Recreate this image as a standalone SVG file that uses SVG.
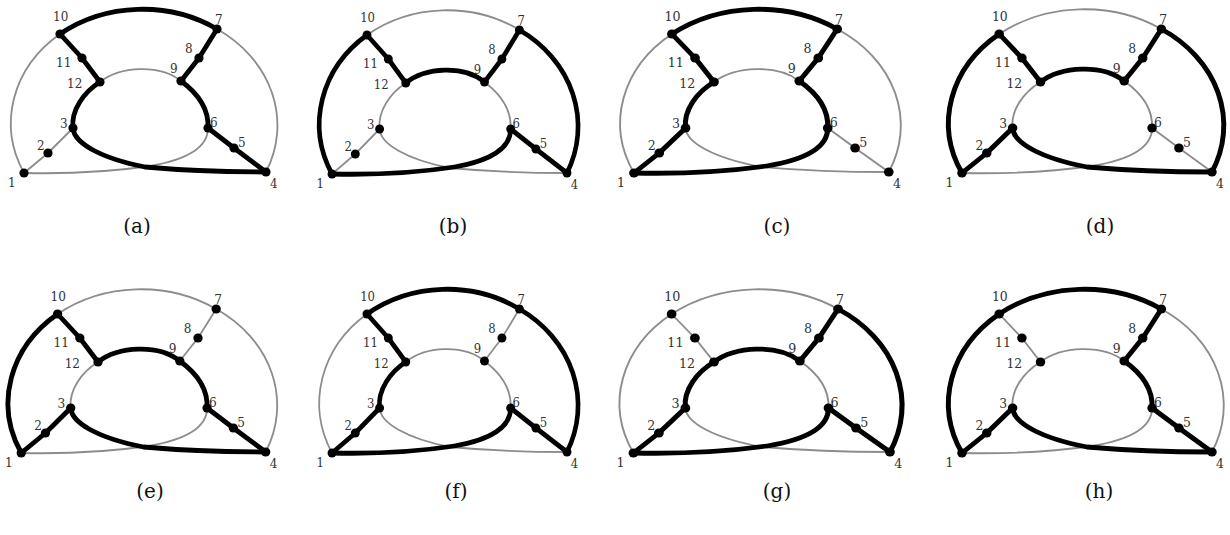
<svg xmlns="http://www.w3.org/2000/svg" xmlns:xlink="http://www.w3.org/1999/xlink" width="1230" height="535" viewBox="0 0 1230 535">
<style>
.thin{fill:none;stroke:#8c8c8c;stroke-width:1.8}
.bold{fill:none;stroke:#000;stroke-width:4.8;stroke-linejoin:round;stroke-linecap:round}
.node circle{fill:#000}
.node text{font-family:"DejaVu Serif","Liberation Serif",serif;font-size:12px;fill:#333}
.cap{font-family:"DejaVu Serif","Liberation Serif",serif;font-size:20px;fill:#111;text-anchor:middle}
</style>
<defs>
<path id="e1-2" d="M24,173 L48,153"/>
<path id="e2-3" d="M48,153 L73,128"/>
<path id="e10-11" d="M60,34 L82,58"/>
<path id="e11-12" d="M82,58 L100,82"/>
<path id="e7-8" d="M217,29 L199,58"/>
<path id="e8-9" d="M199,58 L181,81"/>
<path id="e4-5" d="M266,172 L234,148"/>
<path id="e5-6" d="M234,148 L208,128"/>
<path id="e1-10" d="M24,173 A133,115 0 0 1 60,34"/>
<path id="e10-7" d="M60,34 A133,115 0 0 1 217,29"/>
<path id="e7-4" d="M217,29 A133,115 0 0 1 266,172"/>
<path id="e12-9" d="M100,82 C120,66 160,64 181,81"/>
<path id="e3-12" d="M73,128 C71,110 84,92 100,82"/>
<path id="e9-6" d="M181,81 C196,92 209,108 208,128"/>
<path id="e3-4" d="M73,128 C74,143 100,158 145,167 C190,171 230,172 266,172"/>
<path id="e1-6" d="M24,173 C70,174 110,172 150,166 C185,160 208,148 208,128"/>
</defs>
<rect width="1230" height="535" fill="#fff"/>

<g id="panel-a">
<g id="a-connectors">
<use href="#e1-10" class="thin"/><use href="#e7-4" class="thin"/><use href="#e12-9" class="thin"/><use href="#e1-2" class="thin"/><use href="#e2-3" class="thin"/><use href="#e1-6" class="thin"/>
<use href="#e10-7" class="bold"/><use href="#e7-8" class="bold"/><use href="#e8-9" class="bold"/><use href="#e9-6" class="bold"/><use href="#e5-6" class="bold"/><use href="#e4-5" class="bold"/><use href="#e10-11" class="bold"/><use href="#e11-12" class="bold"/><use href="#e3-12" class="bold"/><use href="#e3-4" class="bold"/>
</g>
<g id="a-n1" class="node"><circle cx="24" cy="173" r="4.6"/><text x="8" y="187">1</text></g>
<g id="a-n2" class="node"><circle cx="48" cy="153" r="4.6"/><text x="37" y="150">2</text></g>
<g id="a-n3" class="node"><circle cx="73" cy="128" r="4.6"/><text x="60" y="128">3</text></g>
<g id="a-n4" class="node"><circle cx="266" cy="172" r="4.6"/><text x="270" y="188">4</text></g>
<g id="a-n5" class="node"><circle cx="234" cy="148" r="4.6"/><text x="238" y="147">5</text></g>
<g id="a-n6" class="node"><circle cx="208" cy="128" r="4.6"/><text x="210" y="127">6</text></g>
<g id="a-n7" class="node"><circle cx="217" cy="29" r="4.6"/><text x="215" y="24">7</text></g>
<g id="a-n8" class="node"><circle cx="199" cy="58" r="4.6"/><text x="185" y="53">8</text></g>
<g id="a-n9" class="node"><circle cx="181" cy="81" r="4.6"/><text x="170" y="73">9</text></g>
<g id="a-n10" class="node"><circle cx="60" cy="34" r="4.6"/><text x="53" y="21">10</text></g>
<g id="a-n11" class="node"><circle cx="82" cy="58" r="4.6"/><text x="56" y="67">11</text></g>
<g id="a-n12" class="node"><circle cx="100" cy="82" r="4.6"/><text x="67" y="88">12</text></g>
</g>

<g id="panel-b" transform="translate(308.7,1) scale(0.971,1)">
<g id="b-connectors">
<use href="#e10-7" class="thin"/><use href="#e1-2" class="thin"/><use href="#e2-3" class="thin"/><use href="#e3-12" class="thin"/><use href="#e9-6" class="thin"/><use href="#e3-4" class="thin"/>
<use href="#e1-10" class="bold"/><use href="#e10-11" class="bold"/><use href="#e11-12" class="bold"/><use href="#e12-9" class="bold"/><use href="#e8-9" class="bold"/><use href="#e7-8" class="bold"/><use href="#e7-4" class="bold"/><use href="#e4-5" class="bold"/><use href="#e5-6" class="bold"/><use href="#e1-6" class="bold"/>
</g>
<g id="b-n1" class="node"><circle cx="24" cy="173" r="4.6"/><text x="8" y="187">1</text></g>
<g id="b-n2" class="node"><circle cx="48" cy="153" r="4.6"/><text x="37" y="150">2</text></g>
<g id="b-n3" class="node"><circle cx="73" cy="128" r="4.6"/><text x="60" y="128">3</text></g>
<g id="b-n4" class="node"><circle cx="266" cy="172" r="4.6"/><text x="270" y="188">4</text></g>
<g id="b-n5" class="node"><circle cx="234" cy="148" r="4.6"/><text x="238" y="147">5</text></g>
<g id="b-n6" class="node"><circle cx="208" cy="128" r="4.6"/><text x="210" y="127">6</text></g>
<g id="b-n7" class="node"><circle cx="217" cy="29" r="4.6"/><text x="215" y="24">7</text></g>
<g id="b-n8" class="node"><circle cx="199" cy="58" r="4.6"/><text x="185" y="53">8</text></g>
<g id="b-n9" class="node"><circle cx="181" cy="81" r="4.6"/><text x="170" y="73">9</text></g>
<g id="b-n10" class="node"><circle cx="60" cy="34" r="4.6"/><text x="53" y="21">10</text></g>
<g id="b-n11" class="node"><circle cx="82" cy="58" r="4.6"/><text x="56" y="67">11</text></g>
<g id="b-n12" class="node"><circle cx="100" cy="82" r="4.6"/><text x="67" y="88">12</text></g>
</g>

<g id="panel-c" transform="translate(608.7,0) scale(1.053,1)">
<g id="c-connectors">
<use href="#e1-10" class="thin"/><use href="#e7-4" class="thin"/><use href="#e12-9" class="thin"/><use href="#e3-4" class="thin"/><use href="#e5-6" class="thin"/><use href="#e4-5" class="thin"/>
<use href="#e10-7" class="bold"/><use href="#e10-11" class="bold"/><use href="#e11-12" class="bold"/><use href="#e3-12" class="bold"/><use href="#e2-3" class="bold"/><use href="#e1-2" class="bold"/><use href="#e1-6" class="bold"/><use href="#e9-6" class="bold"/><use href="#e8-9" class="bold"/><use href="#e7-8" class="bold"/>
</g>
<g id="c-n1" class="node"><circle cx="24" cy="173" r="4.6"/><text x="8" y="187">1</text></g>
<g id="c-n2" class="node"><circle cx="48" cy="153" r="4.6"/><text x="37" y="150">2</text></g>
<g id="c-n3" class="node"><circle cx="73" cy="128" r="4.6"/><text x="60" y="128">3</text></g>
<g id="c-n4" class="node"><circle cx="266" cy="172" r="4.6"/><text x="270" y="188">4</text></g>
<g id="c-n5" class="node"><circle cx="234" cy="148" r="4.6"/><text x="238" y="147">5</text></g>
<g id="c-n6" class="node"><circle cx="208" cy="128" r="4.6"/><text x="210" y="127">6</text></g>
<g id="c-n7" class="node"><circle cx="217" cy="29" r="4.6"/><text x="215" y="24">7</text></g>
<g id="c-n8" class="node"><circle cx="199" cy="58" r="4.6"/><text x="185" y="53">8</text></g>
<g id="c-n9" class="node"><circle cx="181" cy="81" r="4.6"/><text x="170" y="73">9</text></g>
<g id="c-n10" class="node"><circle cx="60" cy="34" r="4.6"/><text x="53" y="21">10</text></g>
<g id="c-n11" class="node"><circle cx="82" cy="58" r="4.6"/><text x="56" y="67">11</text></g>
<g id="c-n12" class="node"><circle cx="100" cy="82" r="4.6"/><text x="67" y="88">12</text></g>
</g>

<g id="panel-d" transform="translate(937.2,0) scale(1.033,1)">
<g id="d-connectors">
<use href="#e10-7" class="thin"/><use href="#e3-12" class="thin"/><use href="#e9-6" class="thin"/><use href="#e1-6" class="thin"/><use href="#e5-6" class="thin"/><use href="#e4-5" class="thin"/>
<use href="#e1-10" class="bold"/><use href="#e10-11" class="bold"/><use href="#e11-12" class="bold"/><use href="#e12-9" class="bold"/><use href="#e8-9" class="bold"/><use href="#e7-8" class="bold"/><use href="#e7-4" class="bold"/><use href="#e3-4" class="bold"/><use href="#e2-3" class="bold"/><use href="#e1-2" class="bold"/>
</g>
<g id="d-n1" class="node"><circle cx="24" cy="173" r="4.6"/><text x="8" y="187">1</text></g>
<g id="d-n2" class="node"><circle cx="48" cy="153" r="4.6"/><text x="37" y="150">2</text></g>
<g id="d-n3" class="node"><circle cx="73" cy="128" r="4.6"/><text x="60" y="128">3</text></g>
<g id="d-n4" class="node"><circle cx="266" cy="172" r="4.6"/><text x="270" y="188">4</text></g>
<g id="d-n5" class="node"><circle cx="234" cy="148" r="4.6"/><text x="238" y="147">5</text></g>
<g id="d-n6" class="node"><circle cx="208" cy="128" r="4.6"/><text x="210" y="127">6</text></g>
<g id="d-n7" class="node"><circle cx="217" cy="29" r="4.6"/><text x="215" y="24">7</text></g>
<g id="d-n8" class="node"><circle cx="199" cy="58" r="4.6"/><text x="185" y="53">8</text></g>
<g id="d-n9" class="node"><circle cx="181" cy="81" r="4.6"/><text x="170" y="73">9</text></g>
<g id="d-n10" class="node"><circle cx="60" cy="34" r="4.6"/><text x="53" y="21">10</text></g>
<g id="d-n11" class="node"><circle cx="82" cy="58" r="4.6"/><text x="56" y="67">11</text></g>
<g id="d-n12" class="node"><circle cx="100" cy="82" r="4.6"/><text x="67" y="88">12</text></g>
</g>

<g id="panel-e" transform="translate(-3,280) scale(1.01,1)">
<g id="e-connectors">
<use href="#e10-7" class="thin"/><use href="#e7-8" class="thin"/><use href="#e8-9" class="thin"/><use href="#e7-4" class="thin"/><use href="#e3-12" class="thin"/><use href="#e1-6" class="thin"/>
<use href="#e1-10" class="bold"/><use href="#e10-11" class="bold"/><use href="#e11-12" class="bold"/><use href="#e12-9" class="bold"/><use href="#e9-6" class="bold"/><use href="#e5-6" class="bold"/><use href="#e4-5" class="bold"/><use href="#e3-4" class="bold"/><use href="#e2-3" class="bold"/><use href="#e1-2" class="bold"/>
</g>
<g id="e-n1" class="node"><circle cx="24" cy="173" r="4.6"/><text x="8" y="187">1</text></g>
<g id="e-n2" class="node"><circle cx="48" cy="153" r="4.6"/><text x="37" y="150">2</text></g>
<g id="e-n3" class="node"><circle cx="73" cy="128" r="4.6"/><text x="60" y="128">3</text></g>
<g id="e-n4" class="node"><circle cx="266" cy="172" r="4.6"/><text x="270" y="188">4</text></g>
<g id="e-n5" class="node"><circle cx="234" cy="148" r="4.6"/><text x="238" y="147">5</text></g>
<g id="e-n6" class="node"><circle cx="208" cy="128" r="4.6"/><text x="210" y="127">6</text></g>
<g id="e-n7" class="node"><circle cx="217" cy="29" r="4.6"/><text x="215" y="24">7</text></g>
<g id="e-n8" class="node"><circle cx="199" cy="58" r="4.6"/><text x="185" y="53">8</text></g>
<g id="e-n9" class="node"><circle cx="181" cy="81" r="4.6"/><text x="170" y="73">9</text></g>
<g id="e-n10" class="node"><circle cx="60" cy="34" r="4.6"/><text x="53" y="21">10</text></g>
<g id="e-n11" class="node"><circle cx="82" cy="58" r="4.6"/><text x="56" y="67">11</text></g>
<g id="e-n12" class="node"><circle cx="100" cy="82" r="4.6"/><text x="67" y="88">12</text></g>
</g>

<g id="panel-f" transform="translate(308.7,280) scale(0.971,1)">
<g id="f-connectors">
<use href="#e1-10" class="thin"/><use href="#e12-9" class="thin"/><use href="#e8-9" class="thin"/><use href="#e7-8" class="thin"/><use href="#e9-6" class="thin"/><use href="#e3-4" class="thin"/>
<use href="#e10-7" class="bold"/><use href="#e7-4" class="bold"/><use href="#e10-11" class="bold"/><use href="#e11-12" class="bold"/><use href="#e3-12" class="bold"/><use href="#e2-3" class="bold"/><use href="#e1-2" class="bold"/><use href="#e1-6" class="bold"/><use href="#e5-6" class="bold"/><use href="#e4-5" class="bold"/>
</g>
<g id="f-n1" class="node"><circle cx="24" cy="173" r="4.6"/><text x="8" y="187">1</text></g>
<g id="f-n2" class="node"><circle cx="48" cy="153" r="4.6"/><text x="37" y="150">2</text></g>
<g id="f-n3" class="node"><circle cx="73" cy="128" r="4.6"/><text x="60" y="128">3</text></g>
<g id="f-n4" class="node"><circle cx="266" cy="172" r="4.6"/><text x="270" y="188">4</text></g>
<g id="f-n5" class="node"><circle cx="234" cy="148" r="4.6"/><text x="238" y="147">5</text></g>
<g id="f-n6" class="node"><circle cx="208" cy="128" r="4.6"/><text x="210" y="127">6</text></g>
<g id="f-n7" class="node"><circle cx="217" cy="29" r="4.6"/><text x="215" y="24">7</text></g>
<g id="f-n8" class="node"><circle cx="199" cy="58" r="4.6"/><text x="185" y="53">8</text></g>
<g id="f-n9" class="node"><circle cx="181" cy="81" r="4.6"/><text x="170" y="73">9</text></g>
<g id="f-n10" class="node"><circle cx="60" cy="34" r="4.6"/><text x="53" y="21">10</text></g>
<g id="f-n11" class="node"><circle cx="82" cy="58" r="4.6"/><text x="56" y="67">11</text></g>
<g id="f-n12" class="node"><circle cx="100" cy="82" r="4.6"/><text x="67" y="88">12</text></g>
</g>

<g id="panel-g" transform="translate(608,280) scale(1.06,1)">
<g id="g-connectors">
<use href="#e1-10" class="thin"/><use href="#e10-7" class="thin"/><use href="#e10-11" class="thin"/><use href="#e11-12" class="thin"/><use href="#e9-6" class="thin"/><use href="#e3-4" class="thin"/>
<use href="#e12-9" class="bold"/><use href="#e3-12" class="bold"/><use href="#e2-3" class="bold"/><use href="#e1-2" class="bold"/><use href="#e1-6" class="bold"/><use href="#e5-6" class="bold"/><use href="#e4-5" class="bold"/><use href="#e7-4" class="bold"/><use href="#e7-8" class="bold"/><use href="#e8-9" class="bold"/>
</g>
<g id="g-n1" class="node"><circle cx="24" cy="173" r="4.6"/><text x="8" y="187">1</text></g>
<g id="g-n2" class="node"><circle cx="48" cy="153" r="4.6"/><text x="37" y="150">2</text></g>
<g id="g-n3" class="node"><circle cx="73" cy="128" r="4.6"/><text x="60" y="128">3</text></g>
<g id="g-n4" class="node"><circle cx="266" cy="172" r="4.6"/><text x="270" y="188">4</text></g>
<g id="g-n5" class="node"><circle cx="234" cy="148" r="4.6"/><text x="238" y="147">5</text></g>
<g id="g-n6" class="node"><circle cx="208" cy="128" r="4.6"/><text x="210" y="127">6</text></g>
<g id="g-n7" class="node"><circle cx="217" cy="29" r="4.6"/><text x="215" y="24">7</text></g>
<g id="g-n8" class="node"><circle cx="199" cy="58" r="4.6"/><text x="185" y="53">8</text></g>
<g id="g-n9" class="node"><circle cx="181" cy="81" r="4.6"/><text x="170" y="73">9</text></g>
<g id="g-n10" class="node"><circle cx="60" cy="34" r="4.6"/><text x="53" y="21">10</text></g>
<g id="g-n11" class="node"><circle cx="82" cy="58" r="4.6"/><text x="56" y="67">11</text></g>
<g id="g-n12" class="node"><circle cx="100" cy="82" r="4.6"/><text x="67" y="88">12</text></g>
</g>

<g id="panel-h" transform="translate(937.2,280) scale(1.033,1)">
<g id="h-connectors">
<use href="#e10-11" class="thin"/><use href="#e11-12" class="thin"/><use href="#e12-9" class="thin"/><use href="#e3-12" class="thin"/><use href="#e7-4" class="thin"/><use href="#e1-6" class="thin"/>
<use href="#e1-10" class="bold"/><use href="#e10-7" class="bold"/><use href="#e7-8" class="bold"/><use href="#e8-9" class="bold"/><use href="#e9-6" class="bold"/><use href="#e5-6" class="bold"/><use href="#e4-5" class="bold"/><use href="#e3-4" class="bold"/><use href="#e2-3" class="bold"/><use href="#e1-2" class="bold"/>
</g>
<g id="h-n1" class="node"><circle cx="24" cy="173" r="4.6"/><text x="8" y="187">1</text></g>
<g id="h-n2" class="node"><circle cx="48" cy="153" r="4.6"/><text x="37" y="150">2</text></g>
<g id="h-n3" class="node"><circle cx="73" cy="128" r="4.6"/><text x="60" y="128">3</text></g>
<g id="h-n4" class="node"><circle cx="266" cy="172" r="4.6"/><text x="270" y="188">4</text></g>
<g id="h-n5" class="node"><circle cx="234" cy="148" r="4.6"/><text x="238" y="147">5</text></g>
<g id="h-n6" class="node"><circle cx="208" cy="128" r="4.6"/><text x="210" y="127">6</text></g>
<g id="h-n7" class="node"><circle cx="217" cy="29" r="4.6"/><text x="215" y="24">7</text></g>
<g id="h-n8" class="node"><circle cx="199" cy="58" r="4.6"/><text x="185" y="53">8</text></g>
<g id="h-n9" class="node"><circle cx="181" cy="81" r="4.6"/><text x="170" y="73">9</text></g>
<g id="h-n10" class="node"><circle cx="60" cy="34" r="4.6"/><text x="53" y="21">10</text></g>
<g id="h-n11" class="node"><circle cx="82" cy="58" r="4.6"/><text x="56" y="67">11</text></g>
<g id="h-n12" class="node"><circle cx="100" cy="82" r="4.6"/><text x="67" y="88">12</text></g>
</g>

<g id="captions">
<text class="cap" x="137" y="233">(a)</text>
<text class="cap" x="453" y="233">(b)</text>
<text class="cap" x="777" y="233">(c)</text>
<text class="cap" x="1100" y="233">(d)</text>
<text class="cap" x="150" y="498">(e)</text>
<text class="cap" x="456" y="498">(f)</text>
<text class="cap" x="777" y="498">(g)</text>
<text class="cap" x="1099" y="498">(h)</text>
</g>
</svg>
